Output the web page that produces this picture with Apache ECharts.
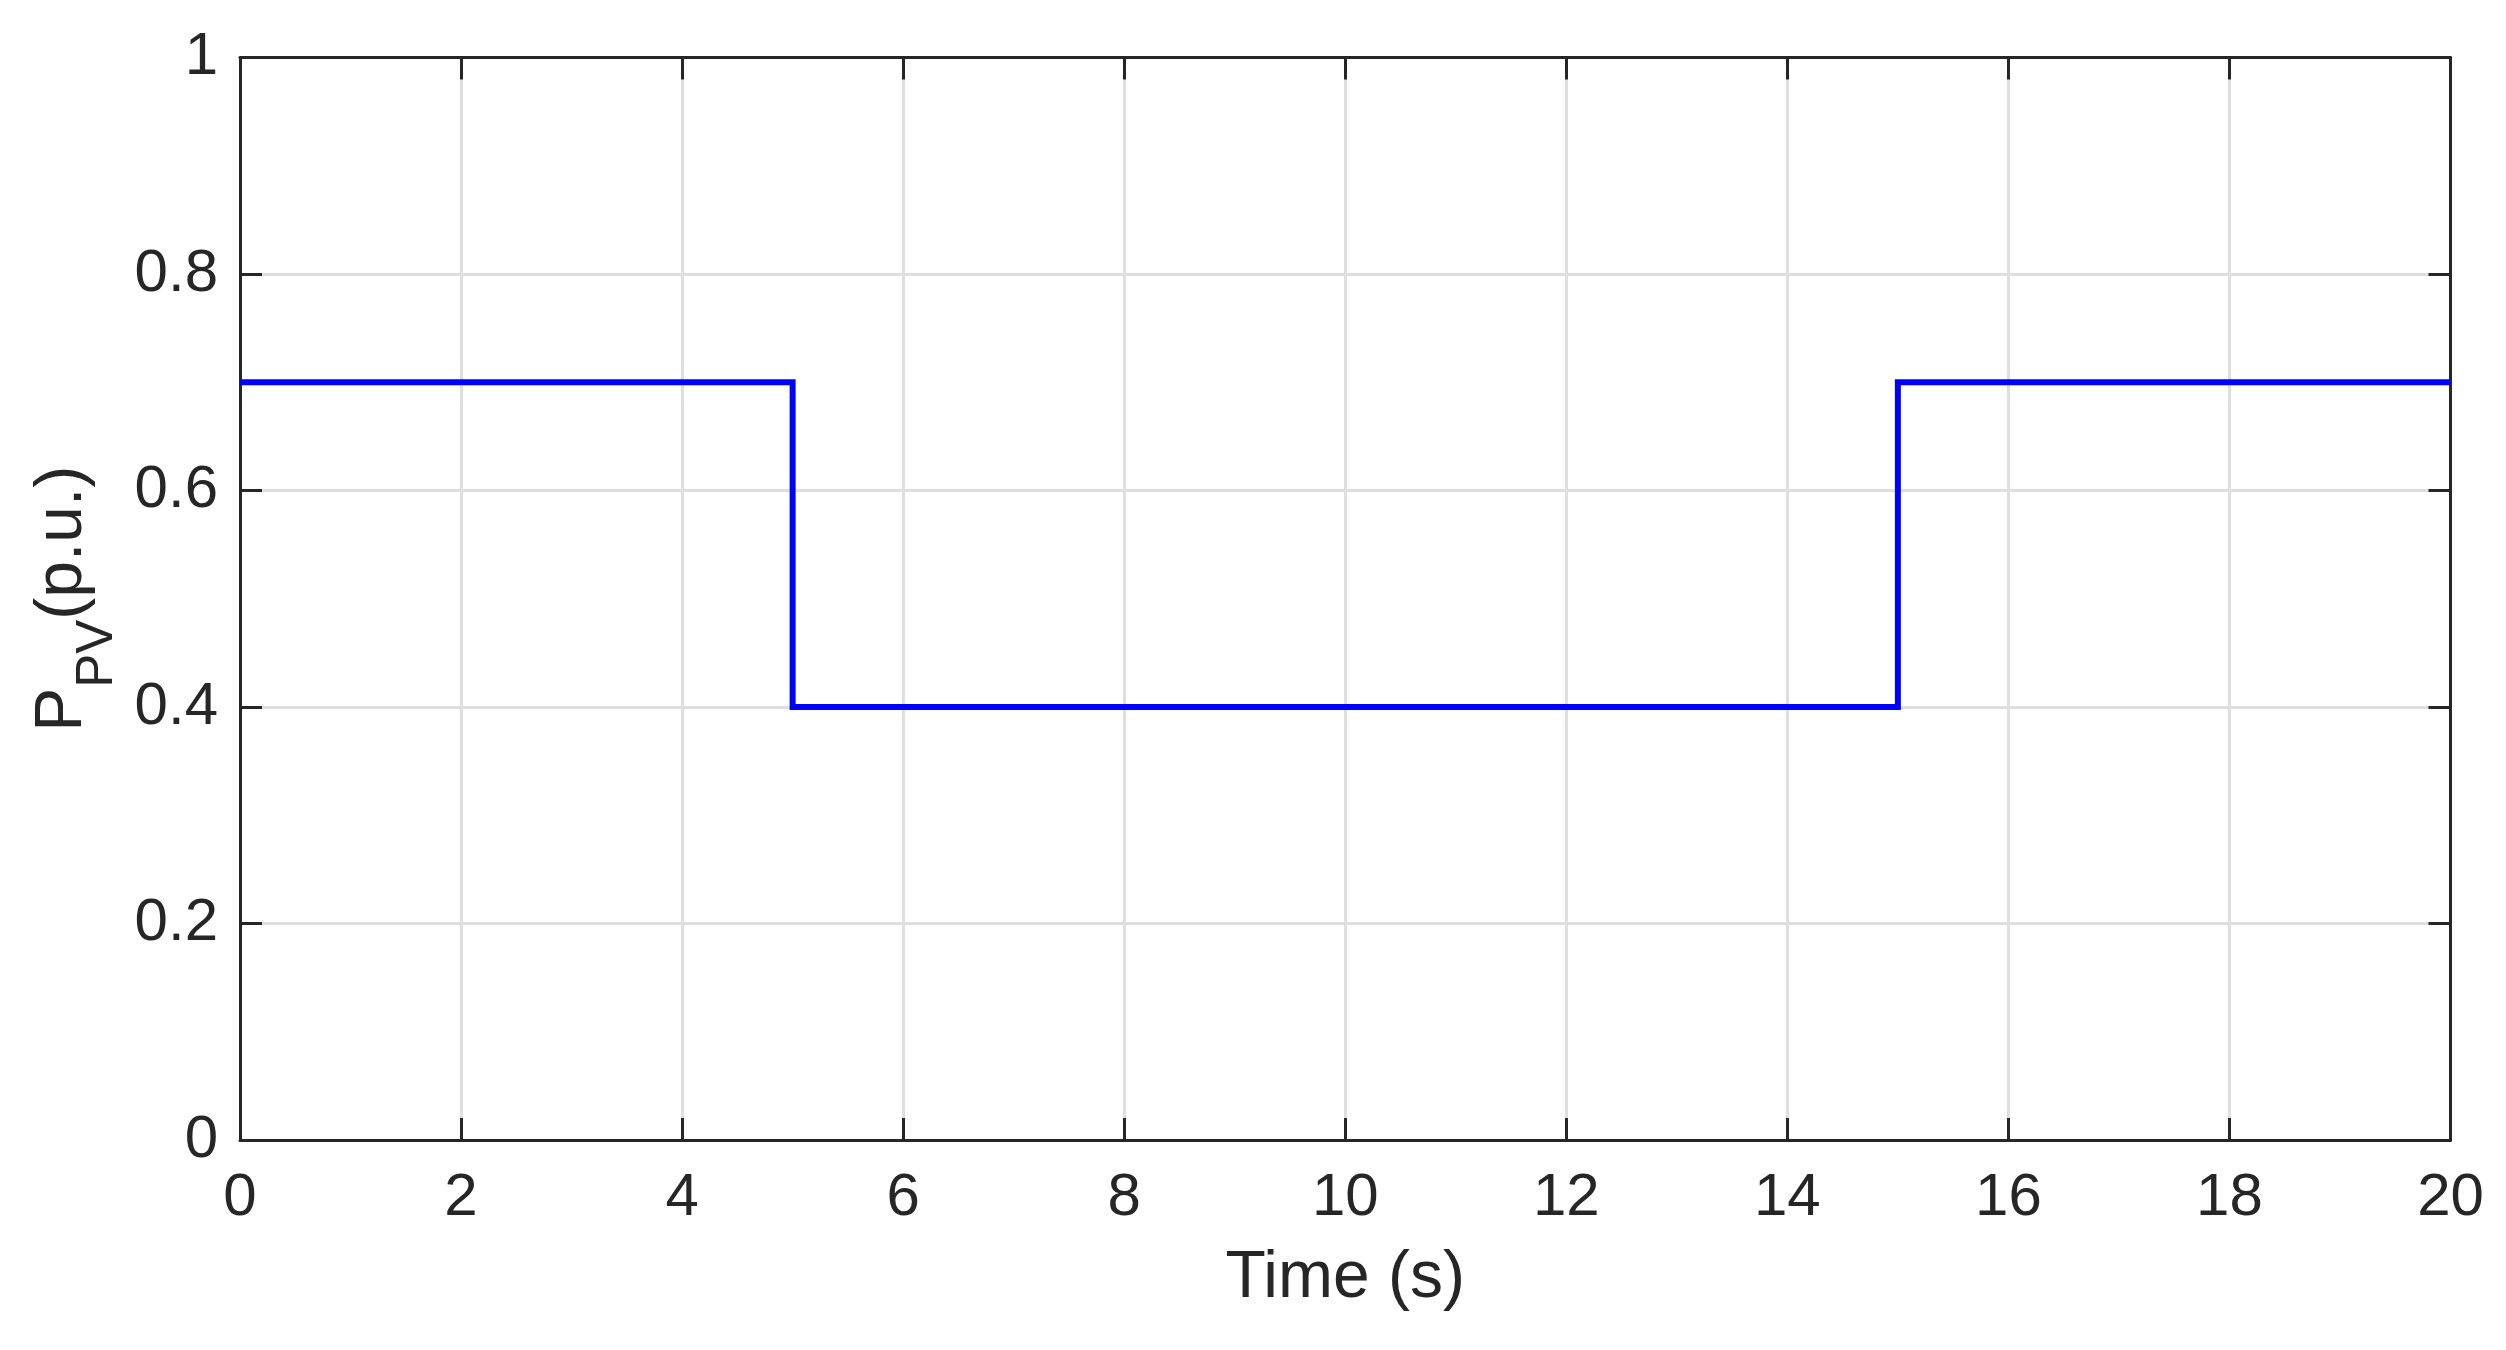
<!DOCTYPE html>
<html>
<head>
<meta charset="utf-8">
<script src="https://cdn.jsdelivr.net/npm/echarts@6/dist/echarts.min.js"></script>
<style>
html,body{margin:0;padding:0;background:#fff;}
#chart{width:2506px;height:1350px;}
</style>
</head>
<body>
<div id="chart"></div>
<script>
// Data
const timeS = [0, 5, 5, 15, 15, 20];
const pvPower = [0.7, 0.7, 0.4, 0.4, 0.7, 0.7];
const xTicks = {min: 0, max: 20, interval: 2};
const yTicks = {min: 0, max: 1, interval: 0.2};
const xName = 'Time (s)';
const yNameParts = ['P', 'PV', '(p.u.)'];

const axisColor = '#262626';
const font = 'Liberation Sans, Arial, Helvetica, sans-serif';

const chart = echarts.init(document.getElementById('chart'), null, {renderer: 'canvas'});

const baseAxisLine = {show: true, onZero: false, lineStyle: {color: axisColor, width: 3}};
const baseTick = {show: true, inside: true, length: 22, lineStyle: {color: axisColor, width: 3}};

chart.setOption({
  backgroundColor: '#ffffff',
  animation: false,
  grid: {left: 240, top: 57.5, right: 55.5, bottom: 210, containLabel: false, outerBoundsMode: 'none'},
  xAxis: [{
    type: 'value', position: 'bottom',
    min: xTicks.min, max: xTicks.max, interval: xTicks.interval,
    axisLine: baseAxisLine, axisTick: baseTick,
    axisLabel: {color: axisColor, fontSize: 60, fontFamily: font, margin: 28},
    splitLine: {show: true, lineStyle: {color: '#dfdfdf', width: 3}},
    name: xName, nameLocation: 'middle', nameGap: 106,
    nameTextStyle: {color: axisColor, fontSize: 66, fontFamily: font}
  }, {
    type: 'value', position: 'top',
    min: xTicks.min, max: xTicks.max, interval: xTicks.interval,
    axisLine: baseAxisLine, axisTick: baseTick,
    axisLabel: {show: false}, splitLine: {show: false}
  }],
  yAxis: [{
    type: 'value', position: 'left',
    min: yTicks.min, max: yTicks.max, interval: yTicks.interval,
    axisLine: baseAxisLine, axisTick: baseTick,
    axisLabel: {color: axisColor, fontSize: 60, fontFamily: font, margin: 22},
    splitLine: {show: true, lineStyle: {color: '#dfdfdf', width: 3}},
    name: '{p|' + yNameParts[0] + '}{s|' + yNameParts[1] + '}{p|' + yNameParts[2] + '}',
    nameLocation: 'middle', nameRotate: 90, nameGap: 80,
    nameTextStyle: {
      color: axisColor, fontFamily: font,
      rich: {
        p: {fontSize: 66, lineHeight: 66, color: axisColor, fontFamily: font},
        s: {fontSize: 51, lineHeight: 51, padding: [70, 0, 0, 0], color: axisColor, fontFamily: font}
      }
    }
  }, {
    type: 'value', position: 'right',
    min: yTicks.min, max: yTicks.max, interval: yTicks.interval,
    axisLine: baseAxisLine, axisTick: baseTick,
    axisLabel: {show: false}, splitLine: {show: false}
  }],
  series: [{
    type: 'line',
    xAxisIndex: 0, yAxisIndex: 0,
    data: timeS.map((t, i) => [t, pvPower[i]]),
    showSymbol: false, symbol: 'none',
    lineStyle: {color: '#0000ff', width: 6, cap: 'butt', join: 'miter'},
    z: 5
  }]
});
</script>
</body>
</html>
